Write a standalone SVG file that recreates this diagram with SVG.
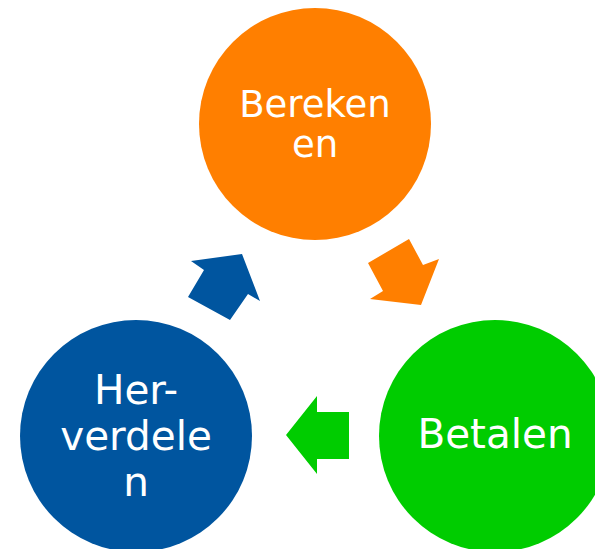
<svg xmlns="http://www.w3.org/2000/svg" width="595" height="549" viewBox="0 0 595 549">
<style>
.lbl{font-family:"DejaVu Sans","Verdana",sans-serif;fill:#FFFFFF;text-anchor:middle}
.or{fill:#FF7F00}.bl{fill:#00559F}.gr{fill:#00CC00}
</style>
<rect width="595" height="549" fill="#FFFFFF"/>
<g id="connectors">
<polygon class="or" points="368,263 409,239 423,265 439,259 421,305 370,299 383,291"/>
<polygon class="gr" points="286,435 317,396 317,412 349,412 349,459 317,459 317,474"/>
<polygon class="bl" points="191,261 242,254 260,301 248,294 230,320 188,297 204,270"/>
</g>
<g id="node-bereken">
<circle class="or" cx="315" cy="124" r="116"/>
<text class="lbl" x="315" y="117" font-size="37">Bereken</text>
<text class="lbl" x="315" y="157" font-size="37">en</text>
</g>
<g id="node-betalen">
<circle class="gr" cx="495" cy="436" r="116"/>
<text class="lbl" x="495" y="448" font-size="40.5">Betalen</text>
</g>
<g id="node-herverdelen">
<circle class="bl" cx="136" cy="436" r="116"/>
<text class="lbl" x="136" y="404" font-size="40.5">Her-</text>
<text class="lbl" x="136" y="450" font-size="40.5">verdele</text>
<text class="lbl" x="136" y="496" font-size="40.5">n</text>
</g>
</svg>
